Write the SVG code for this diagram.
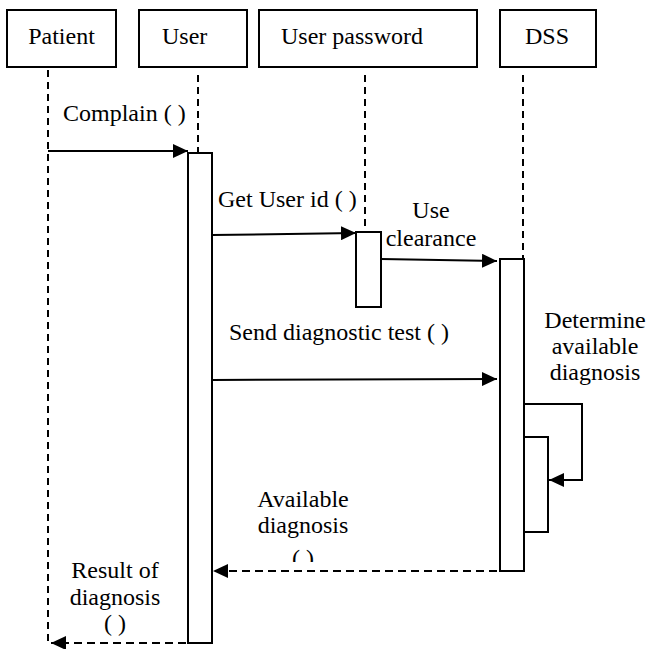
<svg xmlns="http://www.w3.org/2000/svg" width="646" height="649" viewBox="0 0 646 649">
<style>
.box{fill:#fff;stroke:#000;stroke-width:2}
.act{fill:#fff;stroke:#000;stroke-width:2}
.life{stroke:#000;stroke-width:2;stroke-dasharray:7 5;fill:none}
.msg{stroke:#000;stroke-width:2;fill:none}
.ret{stroke:#000;stroke-width:2;fill:none;stroke-dasharray:8 5}
text{font-family:"Liberation Serif","Times New Roman",serif;font-size:24px;fill:#000}
.c{text-anchor:middle}
</style>
<defs>
<marker id="ah" markerUnits="userSpaceOnUse" markerWidth="16" markerHeight="14" refX="15" refY="7" orient="auto">
<path d="M0,0 L15,7 L0,14 Z" fill="#000"/>
</marker>
<clipPath id="clipAvail"><rect x="250" y="540" width="120" height="22"/></clipPath>
</defs>
<g id="lifelines">
<line class="life" x1="48" y1="70" x2="48" y2="645"/>
<line class="life" x1="198" y1="75" x2="198" y2="152"/>
<line class="life" x1="365" y1="75" x2="365" y2="232"/>
<line class="life" x1="523" y1="75" x2="523" y2="259"/>
</g>
<g id="patient">
<rect class="box" x="7" y="10" width="109" height="57"/>
<text x="61.5" y="44" class="c">Patient</text>
</g>
<g id="user">
<rect class="box" x="139" y="10" width="108" height="57"/>
<text x="162" y="44">User</text>
</g>
<g id="userpassword">
<rect class="box" x="259" y="10" width="218" height="57"/>
<text x="281" y="44">User password</text>
</g>
<g id="dss">
<rect class="box" x="500" y="10" width="96" height="57"/>
<text x="547" y="44" class="c">DSS</text>
</g>
<g id="activations">
<rect class="act" x="188" y="153" width="24" height="490"/>
<rect class="act" x="356" y="232" width="25" height="75"/>
<rect class="act" x="500" y="259" width="24" height="312"/>
<rect class="act" x="524" y="437" width="24" height="95"/>
</g>
<g id="connectors">
<line class="msg" x1="48" y1="151" x2="188" y2="151" marker-end="url(#ah)"/>
<line class="msg" x1="212" y1="235" x2="356" y2="233" marker-end="url(#ah)"/>
<line class="msg" x1="381" y1="259" x2="497" y2="261" marker-end="url(#ah)"/>
<line class="msg" x1="212" y1="380" x2="497" y2="379" marker-end="url(#ah)"/>
<polyline class="msg" points="524,404 582,404 582,480 549,480" marker-end="url(#ah)"/>
<line class="ret" x1="523" y1="571" x2="213" y2="571" marker-end="url(#ah)"/>
<line class="ret" x1="186" y1="643" x2="51" y2="643" marker-end="url(#ah)"/>
</g>
<g id="labels">
<text x="63" y="121">Complain ( )</text>
<text x="218" y="207">Get User id ( )</text>
<text x="431" y="218" class="c">Use</text>
<text x="431" y="246" class="c">clearance</text>
<text x="229" y="340">Send diagnostic test ( )</text>
<text x="595" y="328" class="c">Determine</text>
<text x="595" y="354" class="c">available</text>
<text x="595" y="380" class="c">diagnosis</text>
<text x="303" y="507" class="c">Available</text>
<text x="303" y="533" class="c">diagnosis</text>
<text x="303" y="566" class="c" clip-path="url(#clipAvail)">( )</text>
<text x="115" y="578" class="c">Result of</text>
<text x="115" y="605" class="c">diagnosis</text>
<text x="115" y="631" class="c">( )</text>
</g>
</svg>
